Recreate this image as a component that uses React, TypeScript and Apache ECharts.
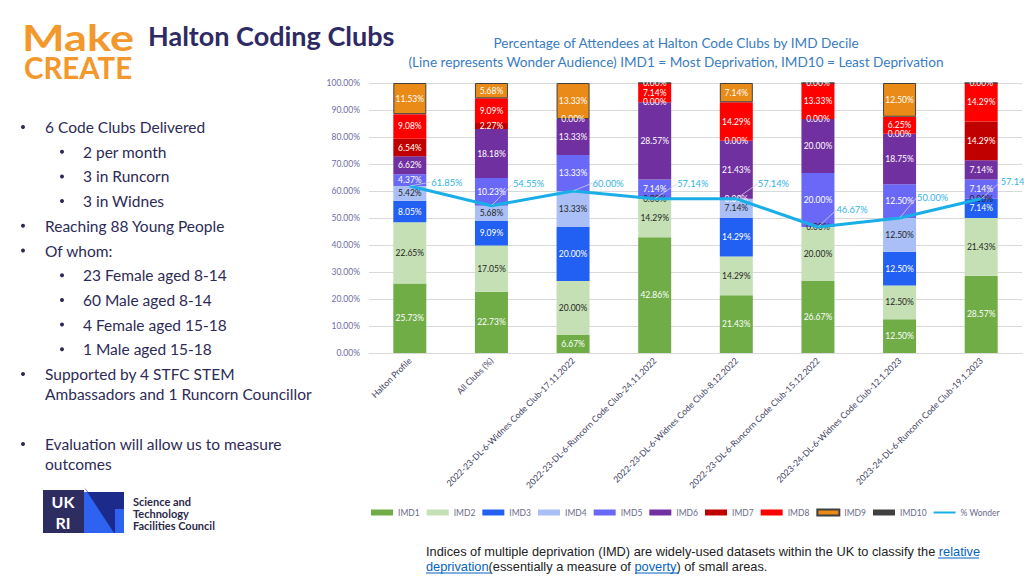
import React, { useEffect, useRef } from "react";
import * as echarts from "echarts";

const categories = [
  "Halton Profile",
  "All Clubs (%)",
  "2022-23-DL-6-Widnes Code Club-17.11.2022",
  "2022-23-DL-6-Runcorn Code Club-24.11.2022",
  "2022-23-DL-6-Widnes Code Club-8.12.2022",
  "2022-23-DL-6-Runcorn Code Club-15.12.2022",
  "2023-24-DL-6-Widnes Code Club-12.1.2023",
  "2023-24-DL-6-Runcorn Code Club-19.1.2023",
];

const imd1 = [25.73, 22.73, 6.67, 42.86, 21.43, 26.67, 12.5, 28.57];
const imd2 = [22.65, 17.05, 20.0, 14.29, 14.29, 20.0, 12.5, 21.43];
const imd3 = [8.05, 9.09, 20.0, null, 14.29, null, 12.5, 7.14];
const imd4 = [5.42, 5.68, 13.33, 0, 7.14, 0, 12.5, 0];
const imd5 = [4.37, 10.23, 13.33, 7.14, 0, 20.0, 12.5, 7.14];
const imd6 = [6.62, 18.18, 13.33, 28.57, 21.43, 20.0, 18.75, 7.14];
const imd7 = [6.54, 2.27, null, 0, 0, 0, 0, 14.29];
const imd8 = [9.08, 9.09, 0, 7.14, 14.29, 13.33, 6.25, 14.29];
const imd9 = [11.53, 5.68, 13.33, 0, 7.14, 0, 12.5, 0];
const imd10 = [null, null, null, null, null, null, null, null];
const wonder = [61.85, 54.55, 60.0, 57.14, 57.14, 46.67, 50.0, 57.14];

const yTicks = [0, 10, 20, 30, 40, 50, 60, 70, 80, 90, 100];

const bulletLines = [
  { level: 1, text: "6 Code Clubs Delivered" },
  { level: 2, text: "2 per month" },
  { level: 2, text: "3 in Runcorn" },
  { level: 2, text: "3 in Widnes" },
  { level: 1, text: "Reaching 88 Young People" },
  { level: 1, text: "Of whom:" },
  { level: 2, text: "23 Female aged 8-14" },
  { level: 2, text: "60 Male aged 8-14" },
  { level: 2, text: "4 Female aged 15-18" },
  { level: 2, text: "1 Male aged 15-18" },
];

const FONT = "Lato, 'Open Sans', sans-serif";
const TEXT_DARK = "#2d2b55";

export default function App() {
  const ref = useRef<HTMLDivElement>(null);

  useEffect(() => {
    document.body.style.margin = "0";
    const chart = echarts.init(ref.current!, undefined, { renderer: "svg" });

    // label offsets (styling) for the Wonder line's data labels
    const wonderLabelShift = [
      [16, -4],
      [16, -22],
      [14, -8],
      [17, -15],
      [16, -15],
      [13, -17],
      [12, -21],
      [14, -17],
    ];

    const seriesDefs = [
      { name: "IMD1", data: imd1, color: "#70ad47", label: "#ffffff" },
      { name: "IMD2", data: imd2, color: "#c5e0b4", label: "#262626" },
      { name: "IMD3", data: imd3, color: "#2160f2", label: "#ffffff" },
      { name: "IMD4", data: imd4, color: "#a9bff5", label: "#262626" },
      { name: "IMD5", data: imd5, color: "#6a68f7", label: "#ffffff" },
      { name: "IMD6", data: imd6, color: "#7030a0", label: "#ffffff" },
      { name: "IMD7", data: imd7, color: "#c00000", label: "#ffffff" },
      { name: "IMD8", data: imd8, color: "#ff0000", label: "#ffffff" },
      { name: "IMD9", data: imd9, color: "#e98b16", label: "#ffffff", border: "#404040" },
      { name: "IMD10", data: imd10, color: "#404040", label: "#ffffff" },
    ];

    const barSeries = seriesDefs.map((s) => ({
      name: s.name,
      type: "bar",
      stack: "imd",
      barWidth: 33,
      data: s.data,
      itemStyle: {
        color: s.color,
        borderColor: s.border || s.color,
        borderWidth: s.border ? 1 : 0,
      },
      label: {
        show: true,
        position: "inside",
        color: s.label,
        fontSize: 8.5,
        fontFamily: FONT,
        formatter: (p: any) =>
          p.value === null || p.value === undefined ? "" : Number(p.value).toFixed(2) + "%",
      },
    }));

    const graphics: any[] = [];
    // Make CREATE logo
    graphics.push({
      type: "text",
      left: 22,
      top: 18,
      style: {
        text: "Make",
        fontFamily: FONT,
        fontWeight: "bold",
        fontSize: 37,
        fill: "#f2982c",
      },
      scaleX: 1.22,
    });
    graphics.push({
      type: "text",
      left: 24,
      top: 52,
      style: {
        text: "CREATE",
        fontFamily: FONT,
        fontWeight: "bold",
        fontSize: 30,
        fill: "#f2982c",
      },
      scaleX: 0.98,
    });
    // Title
    graphics.push({
      type: "text",
      left: 148,
      top: 22,
      style: {
        text: "Halton Coding Clubs",
        fontFamily: FONT,
        fontWeight: "bold",
        fontSize: 27,
        fill: "#2e2a63",
      },
    });
    graphics.push({
      type: "text",
      x: 676,
      y: 43,
      style: {
        text: "Percentage of Attendees at Halton Code Clubs by IMD Decile",
        fontFamily: FONT,
        fontSize: 13.6,
        fill: "#3a7cc0",
        align: "center",
        verticalAlign: "middle",
      },
    });
    graphics.push({
      type: "text",
      x: 676,
      y: 62,
      style: {
        text: "(Line represents Wonder Audience) IMD1 = Most Deprivation, IMD10 = Least Deprivation",
        fontFamily: FONT,
        fontSize: 13.6,
        fill: "#3a7cc0",
        align: "center",
        verticalAlign: "middle",
      },
    });

    // Bullets
    bulletLines.forEach((b, i) => {
      const y = 127 + i * 24.7;
      const bx = b.level === 1 ? 23 : 62;
      const tx = b.level === 1 ? 45 : 83;
      graphics.push({
        type: "circle",
        shape: { cx: bx, cy: y, r: 2 },
        style: { fill: TEXT_DARK },
      });
      graphics.push({
        type: "text",
        x: tx,
        y,
        style: {
          text: b.text,
          fontFamily: FONT,
          fontSize: 15.5,
          fill: TEXT_DARK,
          verticalAlign: "middle",
        },
      });
    });
    const extra = [
      { y: 374, bullet: true, text: "Supported by 4 STFC STEM" },
      { y: 394, bullet: false, text: "Ambassadors and 1 Runcorn Councillor" },
      { y: 444, bullet: true, text: "Evaluation will allow us to measure" },
      { y: 464, bullet: false, text: "outcomes" },
    ];
    extra.forEach((e) => {
      if (e.bullet)
        graphics.push({
          type: "circle",
          shape: { cx: 23, cy: e.y, r: 2 },
          style: { fill: TEXT_DARK },
        });
      graphics.push({
        type: "text",
        x: 45,
        y: e.y,
        style: {
          text: e.text,
          fontFamily: FONT,
          fontSize: 15.5,
          fill: TEXT_DARK,
          verticalAlign: "middle",
        },
      });
    });

    // UKRI logo
    graphics.push({
      type: "rect",
      shape: { x: 43, y: 490, width: 41, height: 43 },
      style: { fill: "#2e2d62" },
    });
    graphics.push({
      type: "text",
      x: 63,
      y: 501,
      style: {
        text: "UK",
        fontFamily: FONT,
        fontWeight: "bold",
        fontSize: 16,
        lineHeight: 16,
        fill: "#ffffff",
        align: "center",
        verticalAlign: "middle",
      },
    });
    graphics.push({
      type: "text",
      x: 63,
      y: 522,
      style: {
        text: "RI",
        fontFamily: FONT,
        fontWeight: "bold",
        fontSize: 16,
        lineHeight: 16,
        fill: "#ffffff",
        align: "center",
        verticalAlign: "middle",
      },
    });
    graphics.push({
      type: "rect",
      shape: { x: 84, y: 492, width: 40, height: 41 },
      style: { fill: "#2d63f0" },
    });
    graphics.push({
      type: "polygon",
      shape: {
        points: [
          [84, 487],
          [88, 492],
          [124, 492],
          [124, 509],
          [115, 509],
          [115, 533],
          [114, 533],
        ],
      },
      style: { fill: "#1c2a8c" },
    });
    ["Science and", "Technology", "Facilities Council"].forEach((t, i) => {
      graphics.push({
        type: "text",
        x: 133,
        y: 501 + i * 12,
        style: {
          text: t,
          fontFamily: FONT,
          fontWeight: "bold",
          fontSize: 11,
          fill: "#2b2a4a",
          verticalAlign: "middle",
        },
      });
    });

    // Bottom note
    const NOTE_FONT = "'Liberation Sans', Arial, sans-serif";
    const NS = 12.8;
    graphics.push({
      type: "text",
      x: 426,
      y: 551,
      style: {
        text: "{a|Indices of multiple deprivation (IMD) are widely-used datasets within the UK to classify the }{l|relative}",
        fontFamily: NOTE_FONT,
        fontSize: NS,
        verticalAlign: "middle",
        rich: {
          a: { fill: "#222222", fontFamily: NOTE_FONT, fontSize: NS },
          l: { fill: "#0563c1", fontFamily: NOTE_FONT, fontSize: NS },
        },
      },
    });
    graphics.push({
      type: "text",
      x: 426,
      y: 566,
      style: {
        text: "{l|deprivation}{a|(essentially a measure of }{l|poverty}{a|) of small areas.}",
        fontFamily: NOTE_FONT,
        fontSize: NS,
        verticalAlign: "middle",
        rich: {
          a: { fill: "#222222", fontFamily: NOTE_FONT, fontSize: NS },
          l: { fill: "#0563c1", fontFamily: NOTE_FONT, fontSize: NS },
        },
      },
    });
    [
      [938, 979, 558],
      [426, 491, 573],
      [635, 679, 573],
    ].forEach(([x1, x2, y]) => {
      graphics.push({
        type: "line",
        shape: { x1, y1: y, x2, y2: y },
        style: { stroke: "#0563c1", lineWidth: 1 },
      });
    });

    chart.setOption({
      animation: false,
      backgroundColor: "#ffffff",
      grid: { left: 369, right: 2, top: 83, bottom: 223, containLabel: false },
      legend: {
        left: 366,
        top: 503,
        width: 650,
        itemWidth: 22,
        itemHeight: 6,
        itemGap: 7,
        icon: "rect",
        textStyle: { fontSize: 8.5, color: "#6b6b8a", fontFamily: FONT },
        data: [
          "IMD1", "IMD2", "IMD3", "IMD4", "IMD5", "IMD6", "IMD7", "IMD8", "IMD9", "IMD10",
          { name: "% Wonder", icon: "path://M0,0 L22,0 L22,2 L0,2 Z" },
        ],
      },
      xAxis: {
        type: "category",
        data: categories,
        axisLine: { lineStyle: { color: "#d9d9d9" } },
        axisTick: { show: false },
        axisLabel: {
          interval: 0,
          rotate: 45,
          fontSize: 8.7,
          color: "#3f3f63",
          fontFamily: FONT,
          margin: 6,
        },
      },
      yAxis: {
        type: "value",
        min: yTicks[0],
        max: yTicks[yTicks.length - 1],
        interval: 10,
        axisLine: { show: false },
        axisTick: { show: false },
        splitLine: { lineStyle: { color: "#d9d9d9" } },
        axisLabel: {
          fontSize: 8.5,
          color: "#6e6ea0",
          fontFamily: FONT,
          margin: 9,
          formatter: (v: number) => v.toFixed(2) + "%",
        },
      },
      series: [
        ...barSeries,
        {
          name: "% Wonder",
          type: "line",
          data: wonder,
          symbol: "circle",
          symbolSize: 1,
          showSymbol: true,
          lineStyle: { color: "#1aaee8", width: 3 },
          itemStyle: { color: "#1aaee8" },
          z: 10,
          label: {
            show: true,
            position: "right",
            color: "#2fb3e6",
            fontSize: 9.3,
            fontFamily: FONT,
            formatter: (p: any) => Number(p.value).toFixed(2) + "%",
          },
          labelLine: { show: true, lineStyle: { color: "#d0d0d0", width: 0.8 } },
          labelLayout: (params: any) => {
            const s = wonderLabelShift[params.dataIndex] || [14, -14];
            return { dx: s[0], dy: s[1] };
          },
        },
      ],
      graphic: graphics,
    } as any);

    return () => chart.dispose();
  }, []);

  return (
    <div
      ref={ref}
      style={{ width: 1024, height: 576, position: "absolute", left: 0, top: 0 }}
    />
  );
}
